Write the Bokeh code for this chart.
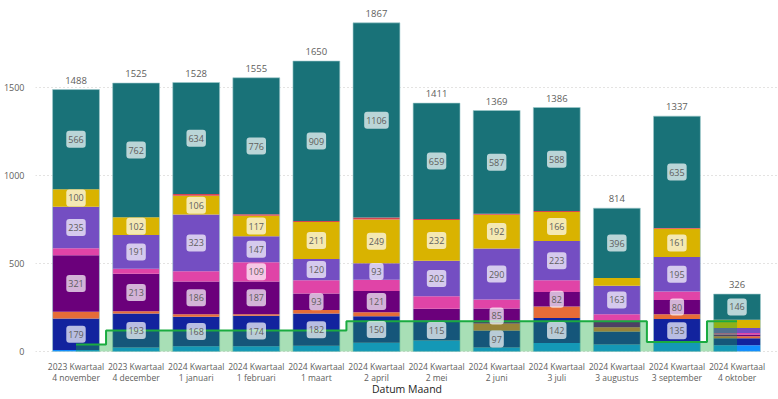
from bokeh.plotting import figure
from bokeh.models import ColumnDataSource, LabelSet, Label, FixedTicker, Range1d
from bokeh.core.properties import value
from bokeh.embed import file_html
from bokeh.resources import INLINE

cat_quarter = ["2023 Kwartaal", "2023 Kwartaal", "2024 Kwartaal", "2024 Kwartaal", "2024 Kwartaal",
               "2024 Kwartaal", "2024 Kwartaal", "2024 Kwartaal", "2024 Kwartaal", "2024 Kwartaal",
               "2024 Kwartaal", "2024 Kwartaal"]
cat_month = ["4 november", "4 december", "1 januari", "1 februari", "1 maart", "2 april",
             "2 mei", "2 juni", "3 juli", "3 augustus", "3 september", "4 oktober"]

s1 = [8, 23, 29, 29, 33, 50, 62, 22, 48, 40, 50, 35]
s2 = [179, 193, 168, 174, 182, 150, 115, 97, 142, 74, 135, 40]
s3 = [39, 13, 15, 8, 21, 23, 0, 40, 66, 23, 27, 11]
s4 = [321, 213, 186, 187, 93, 121, 66, 85, 82, 32, 80, 11]
s5 = [40, 28, 57, 109, 76, 64, 70, 51, 66, 42, 49, 8]
s6 = [235, 191, 323, 147, 120, 93, 202, 290, 223, 163, 195, 28]
s7 = [100, 102, 106, 117, 211, 249, 232, 192, 166, 44, 161, 47]
s8 = [0, 0, 10, 8, 5, 11, 5, 5, 5, 0, 5, 0]
s9 = [566, 762, 634, 776, 909, 1106, 659, 587, 588, 396, 635, 146]
totals = [1488, 1525, 1528, 1555, 1650, 1867, 1411, 1369, 1386, 814, 1337, 326]
line_vals = [40, 119, 119, 119, 119, 172, 172, 172, 172, 172, 53, 172]
y_ticks = [0, 500, 1000, 1500]

series = [s1, s2, s3, s4, s5, s6, s7, s8, s9]
names = ["s1", "s2", "s3", "s4", "s5", "s6", "s7", "s8", "s9"]
colors = ["#118DFF", "#12239E", "#E66C37", "#6B007B", "#E044A7", "#744EC2", "#D9B300", "#D64550", "#197278"]

xs = list(range(len(cat_month)))
data = {"x": xs}
for n, s in zip(names, series):
    data[n] = s
source = ColumnDataSource(data)

FONT = "Open Sans"
x_start, x_end = -0.674, 11.69

p = figure(width=778, height=399, output_backend="svg", toolbar_location=None,
           x_axis_location=None,
           x_range=Range1d(x_start, x_end), y_range=Range1d(-273, 1994),
           min_border_top=0, min_border_right=0, min_border_left=0, min_border_bottom=0)
p.outline_line_color = None
p.background_fill_color = "white"
p.border_fill_color = "white"

bw = 0.78
p.vbar_stack(names, x="x", width=bw, color=colors, source=source, line_width=0)
p.vbar(x=xs, top=totals, width=bw, fill_color=None, line_color="#9EC9CC", line_alpha=0.6, line_width=1)

# green step area + line
p.varea_step(x=xs, y1=[0] * len(xs), y2=line_vals, step_mode="center", fill_color="#1AAB40", fill_alpha=0.38)
p.step(x=xs, y=line_vals, mode="center", line_color="#1AAB40", line_width=2)

# segment labels
for i in xs:
    base = 0
    for s in series:
        v = s[i]
        if v >= 80:
            p.add_layout(Label(x=i, y=base + v / 2, text=str(v), text_align="center", text_baseline="middle",
                               text_font=FONT, text_font_size="9px", text_color="#605E5C",
                               background_fill_color="white", background_fill_alpha=0.7,
                               border_radius=3, padding=(2, 5)))
        base += v

# total labels
tsrc = ColumnDataSource(dict(x=xs, y=totals, t=[str(t) for t in totals]))
p.add_layout(LabelSet(x="x", y="y", text="t", source=tsrc, text_align="center", text_baseline="bottom",
                      y_offset=6, text_font=value(FONT), text_font_size=value("9.5px"), text_color="#605E5C"))

# category labels (two lines) below the bars
csrc = ColumnDataSource(dict(x=xs, y=[0] * len(xs), q=cat_quarter, m=cat_month))
p.add_layout(LabelSet(x="x", y="y", text="q", source=csrc, text_align="center", text_baseline="middle",
                      y_offset=-14.7, text_font=value(FONT), text_font_size=value("8.5px"), text_color="#605E5C"))
p.add_layout(LabelSet(x="x", y="y", text="m", source=csrc, text_align="center", text_baseline="middle",
                      y_offset=-26, text_font=value(FONT), text_font_size=value("8.5px"), text_color="#605E5C"))
p.add_layout(Label(x=(x_start + x_end) / 2, y=0, y_offset=-38, text="Datum Maand", text_align="center",
                   text_baseline="middle", text_font=FONT, text_font_size="10.5px", text_color="#252423"))

# axes
p.yaxis.ticker = FixedTicker(ticks=y_ticks)
p.yaxis.axis_line_color = None
p.yaxis.major_tick_line_color = None
p.yaxis.minor_tick_line_color = None
p.yaxis.major_label_text_font = FONT
p.yaxis.major_label_text_font_size = "9px"
p.yaxis.major_label_text_color = "#605E5C"
p.yaxis.major_label_standoff = 5

p.xgrid.grid_line_color = None
p.ygrid.grid_line_color = "#C8C6C4"
p.ygrid.grid_line_dash = "1 3"
p.ygrid.ticker = FixedTicker(ticks=y_ticks)

open("out.html", "w").write(file_html(p, INLINE))
